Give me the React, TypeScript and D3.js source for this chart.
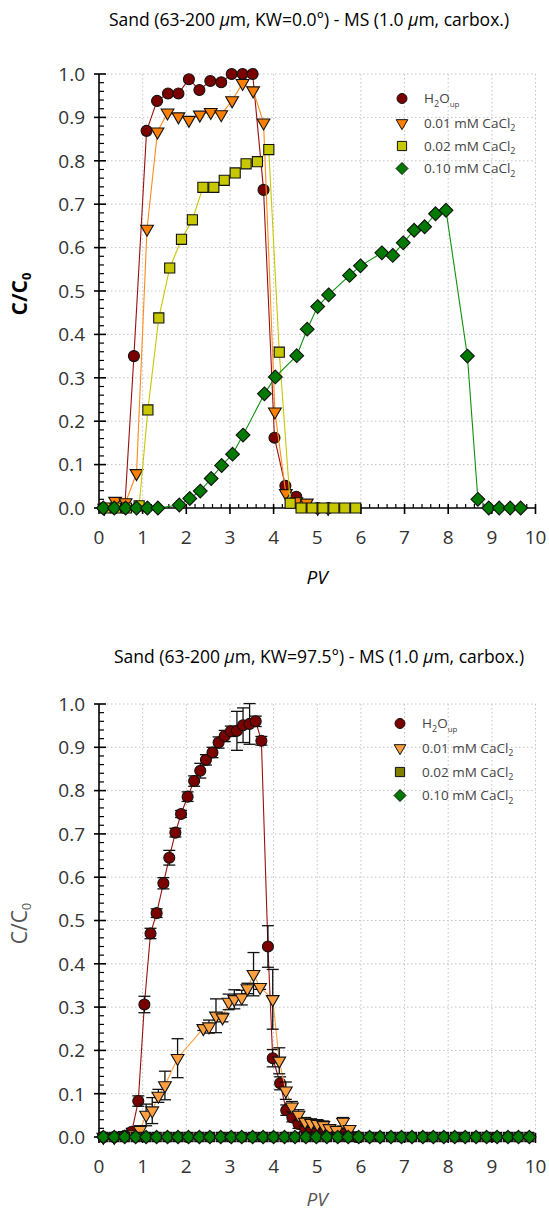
import React from "react";
import * as d3 from "d3";

// ---------------- DATA ----------------
// Top chart: KW = 0.0°
const topH2oX = [0.10, 0.35, 0.59, 0.80, 1.09, 1.33, 1.58, 1.82, 2.06, 2.30, 2.55, 2.80, 3.04, 3.29, 3.52, 3.77, 4.02, 4.27, 4.52, 4.77, 5.01, 5.26];
const topH2oY = [0, 0, 0, 0.35, 0.869, 0.938, 0.955, 0.955, 0.988, 0.963, 0.984, 0.981, 1.0, 1.0, 1.0, 0.733, 0.162, 0.051, 0.026, 0.005, 0, 0];

const topCa001X = [0.12, 0.37, 0.61, 0.86, 1.10, 1.34, 1.57, 1.82, 2.06, 2.31, 2.56, 2.80, 3.05, 3.29, 3.53, 3.77, 4.03, 4.28, 4.52, 4.76, 5.01, 5.25];
const topCa001Y = [0, 0.016, 0.013, 0.08, 0.643, 0.867, 0.911, 0.902, 0.894, 0.906, 0.912, 0.907, 0.939, 0.979, 0.962, 0.888, 0.222, 0.034, 0.015, 0.012, 0, 0];

const topCa002X = [0.14, 0.38, 0.63, 0.92, 1.12, 1.37, 1.62, 1.89, 2.14, 2.38, 2.63, 2.87, 3.12, 3.37, 3.63, 3.89, 4.13, 4.38, 4.63, 4.88, 5.13, 5.38, 5.63, 5.88];
const topCa002Y = [0, 0, 0, 0.005, 0.226, 0.438, 0.553, 0.619, 0.664, 0.739, 0.739, 0.755, 0.772, 0.793, 0.798, 0.826, 0.359, 0.011, 0, 0, 0, 0, 0, 0];

const topCa010X = [0.10, 0.35, 0.61, 0.86, 1.11, 1.35, 1.84, 2.08, 2.32, 2.57, 2.81, 3.06, 3.30, 3.79, 4.04, 4.53, 4.77, 5.01, 5.26, 5.74, 5.99, 6.48, 6.73, 6.97, 7.22, 7.46, 7.71, 7.95, 8.44, 8.68, 8.93, 9.17, 9.42, 9.66];
const topCa010Y = [0, 0, 0, 0, 0, 0, 0.007, 0.022, 0.039, 0.068, 0.098, 0.124, 0.168, 0.263, 0.302, 0.351, 0.412, 0.464, 0.491, 0.536, 0.558, 0.588, 0.582, 0.611, 0.640, 0.648, 0.678, 0.686, 0.350, 0.020, 0, 0, 0, 0];

// Bottom chart: KW = 97.5°
const botH2oX = [0.10, 0.35, 0.59, 0.75, 0.90, 1.04, 1.18, 1.32, 1.475, 1.61, 1.75, 1.88, 2.03, 2.18, 2.32, 2.45, 2.60, 2.74, 2.88, 3.02, 3.16, 3.30, 3.45, 3.59, 3.72, 3.87, 3.98, 4.15, 4.29, 4.43, 4.57, 4.72, 4.86, 5.00, 5.14, 5.29, 5.44, 5.59, 5.74, 5.90];
const botH2oY = [0, 0, 0.003, 0.012, 0.083, 0.306, 0.470, 0.517, 0.586, 0.645, 0.703, 0.746, 0.786, 0.822, 0.846, 0.871, 0.888, 0.911, 0.926, 0.937, 0.938, 0.951, 0.954, 0.960, 0.915, 0.440, 0.182, 0.124, 0.062, 0.045, 0.030, 0.020, 0.016, 0.014, 0.012, 0.012, 0.010, 0.008, 0.004, 0];
const botH2oE = [0, 0, 0.003, 0.008, 0.012, 0.019, 0.012, 0.010, 0.013, 0.017, 0.010, 0.008, 0.011, 0.012, 0.017, 0.012, 0.012, 0.013, 0.013, 0.012, 0.045, 0.040, 0.047, 0.012, 0.010, 0.048, 0.020, 0.015, 0.012, 0.010, 0.010, 0.008, 0.008, 0.007, 0.006, 0.006, 0.005, 0.005, 0.003, 0];

const botCa001X = [0.10, 0.35, 0.59, 0.80, 0.94, 1.08, 1.22, 1.36, 1.51, 1.80, 2.39, 2.52, 2.68, 2.83, 2.97, 3.10, 3.27, 3.40, 3.54, 3.69, 3.98, 4.13, 4.28, 4.42, 4.57, 4.72, 4.86, 5.00, 5.14, 5.28, 5.44, 5.59, 5.74];
const botCa001Y = [0, 0, 0.004, 0.006, 0.016, 0.051, 0.061, 0.095, 0.119, 0.182, 0.251, 0.255, 0.280, 0.276, 0.312, 0.318, 0.322, 0.343, 0.376, 0.346, 0.318, 0.176, 0.107, 0.070, 0.051, 0.035, 0.032, 0.030, 0.027, 0.020, 0.016, 0.035, 0.018];
const botCa001E = [0, 0, 0.003, 0.004, 0.010, 0.025, 0.030, 0.015, 0.033, 0.045, 0.005, 0.015, 0.039, 0.010, 0.018, 0.022, 0.017, 0.012, 0.050, 0.005, 0.069, 0.030, 0.020, 0.012, 0.012, 0.010, 0.010, 0.010, 0.010, 0.008, 0.008, 0.010, 0.008];

const botGridX = [0.10, 0.35, 0.59, 0.84, 1.08, 1.32, 1.57, 1.81, 2.05, 2.30, 2.54, 2.79, 3.03, 3.27, 3.52, 3.76, 4.00, 4.25, 4.49, 4.74, 4.98, 5.22, 5.47, 5.71, 5.95, 6.20, 6.44, 6.69, 6.93, 7.17, 7.42, 7.66, 7.90, 8.15, 8.39, 8.64, 8.88, 9.12, 9.37, 9.61, 9.86];
const botCa002Y = [0, 0, 0, 0, 0, 0, 0, 0, 0, 0, 0, 0, 0, 0, 0, 0, 0, 0, 0, 0, 0, 0, 0, 0, 0, 0, 0, 0, 0, 0, 0, 0, 0, 0, 0, 0, 0, 0, 0, 0, 0];
const botCa010Y = [0, 0, 0, 0, 0, 0, 0, 0, 0, 0, 0, 0, 0, 0, 0, 0, 0, 0, 0, 0, 0, 0, 0, 0, 0, 0, 0, 0, 0, 0, 0, 0, 0, 0, 0, 0, 0, 0, 0, 0, 0];

const xTicks = [0, 1, 2, 3, 4, 5, 6, 7, 8, 9, 10];
const yTicks = [0, 0.1, 0.2, 0.3, 0.4, 0.5, 0.6, 0.7, 0.8, 0.9, 1.0];

// ---------------- DRAWING ----------------
type Shape = "circle" | "triDown" | "square" | "diamond";

function markerPath(shape: Shape, s: number): string {
  switch (shape) {
    case "circle": {
      const r = s * 0.5;
      return `M${-r},0A${r},${r} 0 1,0 ${r},0A${r},${r} 0 1,0 ${-r},0Z`;
    }
    case "triDown": {
      const w = s * 0.58, h = s * 1.0;
      return `M${-w},${-h / 3}L${w},${-h / 3}L0,${(2 * h) / 3}Z`;
    }
    case "square": {
      const a = s * 0.46;
      return `M${-a},${-a}L${a},${-a}L${a},${a}L${-a},${a}Z`;
    }
    case "diamond": {
      const a = s * 0.6;
      return `M0,${-a}L${a},0L0,${a}L${-a},0Z`;
    }
  }
}

interface Series {
  xs: number[];
  ys: number[];
  es?: number[];
  shape: Shape;
  fill: string;
  line: string;
  size: number;
}

interface LegendItem {
  shape: Shape;
  fill: string;
  label: React.ReactNode;
}

const FONT = "'Open Sans', 'DejaVu Sans', sans-serif";

function CaCl(conc: string) {
  return (
    <>
      {conc} mM CaCl<tspan dy={3.5} fontSize={9}>2</tspan>
    </>
  );
}

const h2oLabel = (
  <>
    H<tspan dy={3.5} fontSize={9}>2</tspan>
    <tspan dy={-3.5}>O</tspan>
    <tspan dy={3.5} fontSize={8}>up</tspan>
  </>
);

function Chart(props: {
  top: number;
  bottom: number;
  titleY: number;
  titleX: number;
  kw: string;
  series: Series[];
  legend: LegendItem[];
  legendX: number;
  legendY: number[];
  yLabelColor: string;
  yLabelWeight: number;
  xLabelColor: string;
  xLabelDy: number;
}) {
  const { top, bottom } = props;
  const x = d3.scaleLinear().domain([0, 10]).range([99, 535.5]);
  const y = d3.scaleLinear().domain([0, 1]).range([bottom, top]);
  const line = d3
    .line<[number, number]>()
    .x((d) => x(d[0]))
    .y((d) => y(d[1]));

  const xMinor = d3.range(0, 10.001, 0.2).filter((v) => Math.abs(v - Math.round(v)) > 1e-6);
  const yMinor = d3.range(0, 1.0001, 0.02).filter((v) => Math.abs(v * 10 - Math.round(v * 10)) > 1e-6);

  const x0 = x(0);
  const yAxis = y(0);

  return (
    <g>
      {/* title */}
      <text x={props.titleX} y={props.titleY} textAnchor="middle" fontSize={17.5} fontFamily={FONT} fill="#000">
        Sand (63-200 <tspan fontStyle="italic">μ</tspan>m, KW={props.kw}°) - MS (1.0 <tspan fontStyle="italic">μ</tspan>m, carbox.)
      </text>

      {/* grid */}
      {xTicks.slice(1).map((t) => (
        <line key={"gx" + t} x1={x(t)} x2={x(t)} y1={y(1)} y2={y(0)} stroke="#c4c4c4" strokeWidth={1} strokeDasharray="1.5,2.5" />
      ))}
      {yTicks.slice(1).map((t) => (
        <line key={"gy" + t} x1={x(0)} x2={x(10)} y1={y(t)} y2={y(t)} stroke="#c4c4c4" strokeWidth={1} strokeDasharray="1.5,2.5" />
      ))}

      {/* axes */}
      <line x1={x0} x2={x0} y1={y(1)} y2={yAxis} stroke="#000" strokeWidth={1.6} />
      <line x1={x0} x2={x(10)} y1={yAxis} y2={yAxis} stroke="#000" strokeWidth={1.6} />
      {yTicks.map((t) => (
        <line key={"yt" + t} x1={x0 - 5} x2={x0 + 7} y1={y(t)} y2={y(t)} stroke="#000" strokeWidth={1.6} />
      ))}
      {yMinor.map((t) => (
        <line key={"ym" + t} x1={x0} x2={x0 + 5} y1={y(t)} y2={y(t)} stroke="#000" strokeWidth={1.2} />
      ))}
      {xTicks.map((t) => (
        <line key={"xt" + t} x1={x(t)} x2={x(t)} y1={yAxis - 4} y2={yAxis + 6} stroke="#000" strokeWidth={1.6} />
      ))}
      {xMinor.map((t) => (
        <line key={"xm" + t} x1={x(t)} x2={x(t)} y1={yAxis - 4} y2={yAxis} stroke="#000" strokeWidth={1.2} />
      ))}

      {/* tick labels */}
      {yTicks.map((t) => (
        <text key={"yl" + t} x={85} y={y(t) + 6.8} textAnchor="end" fontSize={19} fontFamily={FONT} fill="#333">
          {d3.format(".1f")(t)}
        </text>
      ))}
      {xTicks.map((t) => (
        <text key={"xl" + t} x={x(t)} y={yAxis + 36} textAnchor="middle" fontSize={19} fontFamily={FONT} fill="#333">
          {t}
        </text>
      ))}

      {/* axis labels */}
      <text
        transform={`translate(27,${(y(0) + y(1)) / 2 + 3}) rotate(-90)`}
        textAnchor="middle"
        fontSize={21}
        fontWeight={props.yLabelWeight}
        fontFamily={FONT}
        fill={props.yLabelColor}
      >
        C/C<tspan dy={4} fontSize={13}>0</tspan>
      </text>
      <text x={317} y={yAxis + props.xLabelDy} textAnchor="middle" fontSize={19} fontStyle="italic" fontFamily={FONT} fill={props.xLabelColor}>
        PV
      </text>

      {/* series */}
      {props.series.map((s, si) => {
        const pts = s.xs.map((v, i) => [v, s.ys[i]] as [number, number]);
        return (
          <g key={"s" + si}>
            <path d={line(pts) || ""} fill="none" stroke={s.line} strokeWidth={1.1} />
            {s.es &&
              pts.map((p, i) => {
                const e = s.es![i];
                if (!e) return null;
                const cx = x(p[0]);
                const y1 = y(p[1] + e);
                const y2 = y(p[1] - e);
                return (
                  <g key={"e" + i} stroke="#111" strokeWidth={1.3}>
                    <line x1={cx} x2={cx} y1={y1} y2={y2} />
                    <line x1={cx - 6} x2={cx + 6} y1={y1} y2={y1} />
                    <line x1={cx - 6} x2={cx + 6} y1={y2} y2={y2} />
                  </g>
                );
              })}
            {pts.map((p, i) => (
              <path
                key={"m" + i}
                d={markerPath(s.shape, s.size)}
                transform={`translate(${x(p[0])},${y(p[1])})`}
                fill={s.fill}
                stroke="#111"
                strokeWidth={1.1}
              />
            ))}
          </g>
        );
      })}

      {/* legend */}
      {props.legend.map((l, i) => (
        <g key={"l" + i}>
          <path
            d={markerPath(l.shape, 10)}
            transform={`translate(${props.legendX},${props.legendY[i]})`}
            fill={l.fill}
            stroke="#111"
            strokeWidth={1}
          />
          <text x={props.legendX + 22} y={props.legendY[i] + 4.5} fontSize={13.5} fontFamily={FONT} fill="#444">
            {l.label}
          </text>
        </g>
      ))}
    </g>
  );
}

export default function App() {
  const topSeries: Series[] = [
    { xs: topH2oX, ys: topH2oY, shape: "circle", fill: "#7a0000", line: "#9a1010", size: 11 },
    { xs: topCa001X, ys: topCa001Y, shape: "triDown", fill: "#ff8000", line: "#ff8c1a", size: 11 },
    { xs: topCa002X, ys: topCa002Y, shape: "square", fill: "#c8c800", line: "#c8c800", size: 11 },
    { xs: topCa010X, ys: topCa010Y, shape: "diamond", fill: "#007a00", line: "#109010", size: 11.5 },
  ];
  const botSeries: Series[] = [
    { xs: botH2oX, ys: botH2oY, es: botH2oE, shape: "circle", fill: "#7a0000", line: "#9a1010", size: 11 },
    { xs: botCa001X, ys: botCa001Y, es: botCa001E, shape: "triDown", fill: "#ffa040", line: "#ffa040", size: 11 },
    { xs: botGridX, ys: botCa002Y, shape: "square", fill: "#808000", line: "#808000", size: 10 },
    { xs: botGridX, ys: botCa010Y, shape: "diamond", fill: "#007a00", line: "#109010", size: 11 },
  ];
  const topLegend: LegendItem[] = [
    { shape: "circle", fill: "#7a0000", label: h2oLabel },
    { shape: "triDown", fill: "#ff8000", label: CaCl("0.01") },
    { shape: "square", fill: "#c8c800", label: CaCl("0.02") },
    { shape: "diamond", fill: "#007a00", label: CaCl("0.10") },
  ];
  const botLegend: LegendItem[] = [
    { shape: "circle", fill: "#7a0000", label: h2oLabel },
    { shape: "triDown", fill: "#ffa040", label: CaCl("0.01") },
    { shape: "square", fill: "#808000", label: CaCl("0.02") },
    { shape: "diamond", fill: "#007a00", label: CaCl("0.10") },
  ];

  return (
    <svg width={549} height={1214} style={{ position: "absolute", left: 0, top: 0, background: "#fff" }}>
      <rect width={549} height={1214} fill="#fff" />
      <Chart
        top={74}
        bottom={508}
        titleY={26}
        titleX={309}
        kw="0.0"
        series={topSeries}
        legend={topLegend}
        legendX={402}
        legendY={[98.5, 123, 146, 168.5]}
        yLabelColor="#000"
        yLabelWeight={700}
        xLabelColor="#000"
        xLabelDy={76}
      />
      <Chart
        top={704}
        bottom={1137}
        titleY={663}
        titleX={319}
        kw="97.5"
        series={botSeries}
        legend={botLegend}
        legendX={400}
        legendY={[723.5, 748, 772, 795.5]}
        yLabelColor="#555"
        yLabelWeight={400}
        xLabelColor="#555"
        xLabelDy={69}
      />
    </svg>
  );
}
